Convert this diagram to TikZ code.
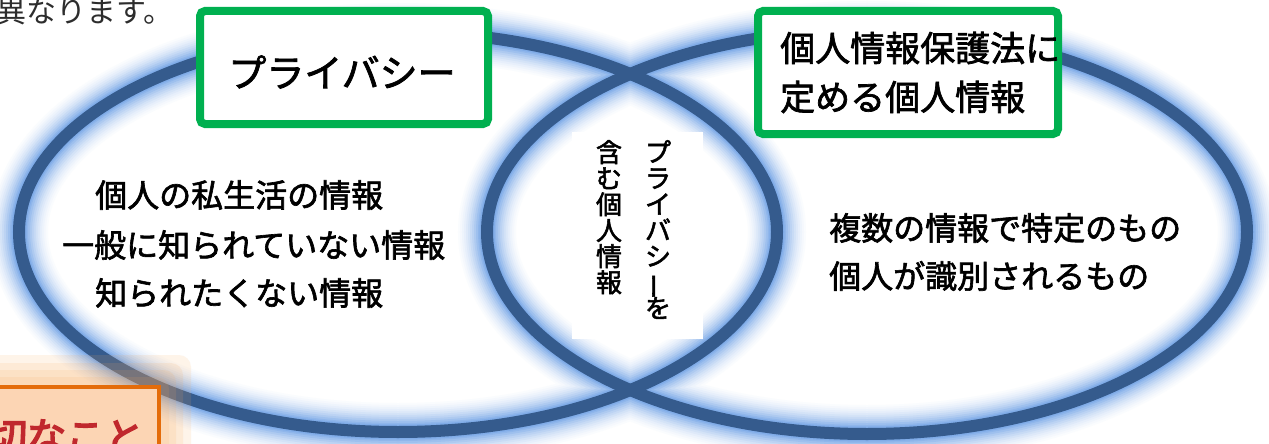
\documentclass[tikz,border=0pt]{standalone}
\usepackage{fontspec}
\setmainfont{Noto Sans CJK JP}
\newfontfamily\jpmed{Noto Sans CJK JP}[FakeBold=2]
\newfontfamily\jpheavy{Noto Sans CJK JP}[FakeBold=4]
\usepackage{graphicx}
\definecolor{ellline}{RGB}{53,91,141}
\definecolor{glowe}{RGB}{128,172,232}
\definecolor{gboxgreen}{RGB}{0,176,80}
\definecolor{oborder}{RGB}{228,108,10}
\definecolor{peach}{RGB}{252,213,180}
\definecolor{oglow}{RGB}{250,170,90}
\definecolor{redtxt}{RGB}{192,40,45}
\definecolor{toptext}{RGB}{45,45,45}
\newcommand\vchoon{\rotatebox[origin=c]{90}{ー}}
\newcommand\vcell[1]{\hbox to 26pt{\hss#1\hss}}
\newcommand\vstackbox[1]{\vbox{\baselineskip=26pt\lineskiplimit=-100pt\lineskip=0pt#1}}
\tikzset{
  mainline/.style={line width=12pt, draw=ellline},
  gbox/.style={draw=gboxgreen, line width=8pt, rounded corners=5pt, fill=white, inner sep=0pt},
  bodytext/.style={inner sep=0pt, anchor=west, font=\jpmed\fontsize{32pt}{32pt}\selectfont},
  titletext/.style={inner sep=0pt, font=\jpmed\fontsize{35pt}{35pt}\selectfont},
  vtext/.style={inner sep=0pt, anchor=north, font=\jpmed\fontsize{26pt}{26pt}\selectfont}
}
\begin{document}
\begin{tikzpicture}[x=1pt,y=-1pt]
\useasboundingbox (0,0) rectangle (1269,444);
\clip (0,0) rectangle (1269,444);
\fill[white] (0,0) rectangle (1269,444);
% glow layers
\foreach \w/\p in {58/4,54/8,50/13,46/19,42/26,38/34,34/43,30/53,26/64,22/76,18/88,15/100} {
  \draw[line width=\w pt, draw=glowe!\p!white] (398,232) ellipse [x radius=379pt, y radius=200pt];
  \draw[line width=\w pt, draw=glowe!\p!white] (867,232) ellipse [x radius=380pt, y radius=202pt];
}
\draw[mainline] (398,232) ellipse [x radius=379pt, y radius=200pt];
\draw[mainline] (867,232) ellipse [x radius=380pt, y radius=202pt];
% orange glow and box
\foreach \k in {30,22,15,8} {
  \fill[oglow, opacity=0.13, rounded corners=12pt] (-40,385-\k) rectangle (161+\k,480);
}
\node[draw=oborder, line width=4pt, fill=peach, minimum width=220pt, minimum height=100pt, anchor=north east, inner sep=0pt] (obox) at (161,385) {};
\node[inner sep=0pt, anchor=base west, text=redtxt, font=\jpheavy\fontsize{39pt}{39pt}\selectfont] (otext) at (-12,451) {切なこと};
% top-left text
\node[inner sep=0pt, anchor=base west, text=toptext, font=\fontsize{30pt}{30pt}\selectfont] (toptxt) at (-4,23) {異なります。};
% vertical label in intersection
\node[fill=white, minimum width=131pt, minimum height=207pt, inner sep=0pt] (vbox) at (637.5,235.5) {};
\node[vtext] (vcolr) at (658,140) {\vstackbox{\vcell{プ}\vcell{ラ}\vcell{イ}\vcell{バ}\vcell{シ}\vcell{\vchoon}\vcell{を}}};
\node[vtext] (vcoll) at (609,140) {\vstackbox{\vcell{含}\vcell{む}\vcell{個}\vcell{人}\vcell{情}\vcell{報}}};
% green title boxes
\node[gbox, minimum width=288pt, minimum height=113pt] (gb1) at (344,67.5) {};
\node[inner sep=0pt, font=\jpmed\fontsize{38pt}{38pt}\selectfont] (gt1) at (342,72) {プライバシー};
\node[gbox, minimum width=300pt, minimum height=123pt] (gb2) at (908,72.5) {};
\node[titletext, anchor=west] (gt2a) at (780,48) {個人情報保護法に};
\node[titletext, anchor=west] (gt2b) at (780,97) {定める個人情報};
% body texts
\node[bodytext] (l1) at (95,195) {個人の私生活の情報};
\node[bodytext] (l2) at (62,245) {一般に知られていない情報};
\node[bodytext] (l3) at (95,293) {知られたくない情報};
\node[bodytext] (r1) at (829,228) {複数の情報で特定のもの};
\node[bodytext] (r2) at (829,276) {個人が識別されるもの};
\end{tikzpicture}
\end{document}
